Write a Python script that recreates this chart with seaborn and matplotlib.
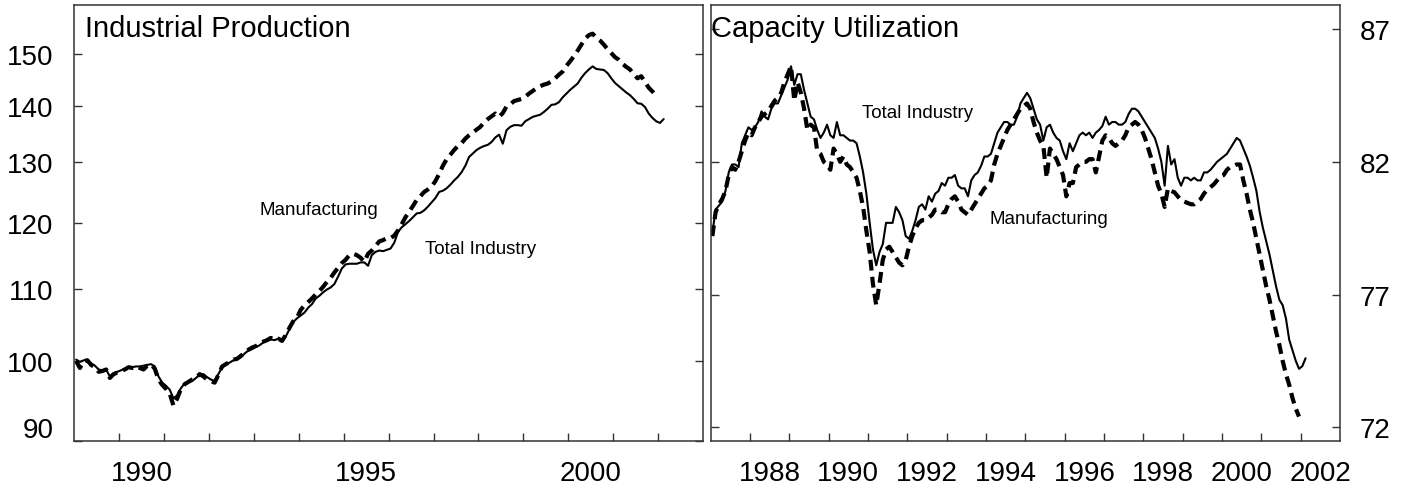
"""
Industrial Production / Capacity Utilization, two-panel monthly chart.
"""

import matplotlib
matplotlib.use("Agg")
import matplotlib.pyplot as plt
import matplotlib.transforms as mtransforms
import numpy as np
import pandas as pd
import seaborn as sns

# ==========================================
# DATA (monthly)
# ==========================================
IP_START = 1989  # Jan 1989 = 100
ip_total = [
    100.2, 99.9, 100.1, 100.2, 99.7, 99.4, 98.9, 98.8, 98.9, 98.0, 98.4, 98.6,
    98.8, 99.0, 99.1, 99.2, 99.3, 99.3, 99.4, 99.5, 99.6, 99.3, 98.0, 97.2,
    96.8, 96.3, 95.2, 95.6, 96.5, 97.1, 97.3, 97.4, 97.8, 98.2, 98.3, 97.9,
    97.6, 97.4, 98.3, 99.2, 99.6, 99.8, 100.1, 100.3, 100.5, 101.0, 101.4, 101.6,
    101.9, 102.1, 102.5, 102.7, 102.9, 102.8, 103.0, 102.8, 103.3, 104.3, 105.3, 105.8,
    106.2, 106.6, 107.3, 107.8, 108.6, 109.0, 109.5, 109.9, 110.2, 110.7, 111.8, 113.0,
    113.6, 113.7, 113.7, 113.7, 113.9, 113.9, 113.4, 115.0, 115.5, 115.7, 115.6, 115.8,
    116.0, 116.9, 118.6, 119.3, 119.8, 120.3, 120.9, 121.5, 121.6, 122.0, 122.6, 123.3,
    124.0, 125.0, 125.2, 125.6, 126.2, 126.9, 127.5, 128.3, 129.4, 130.9, 131.5, 132.1,
    132.5, 132.8, 133.0, 133.5, 134.3, 134.8, 133.2, 135.6, 136.2, 136.5, 136.5, 136.4,
    137.2, 137.6, 138.0, 138.2, 138.4, 138.9, 139.5, 140.2, 140.3, 140.7, 141.6, 142.3,
    143.0, 143.6, 144.2, 145.3, 146.2, 146.9, 147.5, 147.0, 146.9, 146.8, 146.2, 145.2,
    144.3, 143.7, 143.1, 142.5, 142.0, 141.3, 140.5, 140.4, 139.8, 138.6, 137.8, 137.2,
    136.9, 137.6,
]
ip_manuf = [
    100.0, 99.1, 100.0, 100.1, 99.5, 99.2, 98.6, 98.7, 98.9, 97.8, 98.3, 98.5,
    98.7, 98.9, 99.2, 99.1, 99.3, 99.1, 98.9, 99.4, 99.6, 99.0, 97.6, 96.9,
    96.4, 95.8, 94.3, 95.2, 96.4, 97.0, 97.3, 97.6, 97.8, 98.3, 98.0, 97.6,
    97.4, 97.2, 98.2, 99.3, 99.6, 99.9, 100.2, 100.3, 100.7, 101.1, 101.5, 101.8,
    102.0, 102.3, 102.6, 102.8, 103.1, 102.9, 103.0, 102.7, 103.5, 104.5, 105.4, 105.9,
    107.0, 107.6, 108.1, 108.6, 109.2, 109.7, 110.3, 111.0, 111.6, 112.4, 113.1, 113.8,
    114.3, 115.0, 115.2, 115.0, 114.6, 114.0, 115.2, 115.7, 116.4, 117.1, 117.3, 117.6,
    117.6, 118.0, 118.8, 119.8, 120.9, 121.8, 122.7, 123.7, 124.3, 125.0, 125.4, 125.9,
    126.8, 128.0, 129.4, 130.5, 131.3, 132.1, 132.8, 133.3, 134.1, 134.7, 135.2, 135.7,
    136.2, 137.0, 137.6, 138.1, 138.6, 138.0, 138.7, 139.9, 140.3, 140.9, 141.1, 141.3,
    141.7, 142.3, 142.8, 143.3, 143.7, 144.0, 144.2, 144.6, 145.2, 145.9, 146.5, 147.6,
    148.5, 149.5, 150.6, 151.8, 153.0, 153.7, 154.0, 153.2, 152.6, 151.8, 150.9, 150.1,
    149.3, 148.8, 148.0, 147.4, 146.9, 146.0, 145.2, 145.6, 144.5, 143.4, 142.7, 141.9,
]

CU_START = 1987
cu_total = [
    79.3, 80.2, 80.35, 80.5, 80.9, 81.6, 81.9, 81.9, 81.8, 82.7, 83.0, 83.3,
    83.2, 83.3, 83.5, 83.9, 83.7, 83.6, 84.0, 84.2, 84.2, 84.5, 84.8, 85.1,
    85.6, 84.9, 85.3, 85.3, 84.7, 84.2, 83.7, 83.6, 83.2, 82.9, 83.1, 83.4,
    83.0, 82.9, 83.5, 83.0, 83.0, 82.9, 82.8, 82.8, 82.7, 82.2, 81.6, 80.8,
    79.7, 78.7, 78.1, 78.6, 78.9, 79.7, 79.7, 79.7, 80.3, 80.1, 79.8, 79.2,
    79.1, 79.4, 79.8, 80.3, 80.4, 80.2, 80.7, 80.5, 80.8, 80.9, 81.2, 81.1,
    81.4, 81.4, 81.5, 81.1, 81.0, 81.0, 80.7, 81.3, 81.5, 81.6, 81.85, 82.2,
    82.2, 82.3, 82.7, 83.1, 83.3, 83.5, 83.5, 83.4, 83.4, 83.7, 84.2, 84.4,
    84.6, 84.4, 84.0, 83.6, 83.4, 82.8, 83.3, 83.4, 83.1, 82.9, 82.8, 82.4,
    82.1, 82.7, 82.4, 82.7, 83.0, 83.1, 83.0, 83.1, 82.9, 83.1, 83.2, 83.35,
    83.7, 83.4, 83.5, 83.5, 83.4, 83.4, 83.5, 83.8, 84.0, 84.0, 83.9, 83.7,
    83.5, 83.3, 83.1, 82.9, 82.5, 82.0, 81.1, 82.6, 81.9, 82.1, 81.4, 81.1,
    81.4, 81.4, 81.3, 81.4, 81.3, 81.3, 81.6, 81.6, 81.7, 81.85, 82.0, 82.1,
    82.2, 82.3, 82.5, 82.7, 82.9, 82.8, 82.5, 82.2, 81.85, 81.4, 80.9, 80.1,
    79.5, 79.0, 78.5, 77.9, 77.3, 76.8, 76.6, 76.1, 75.3, 74.9, 74.5, 74.2,
    74.3, 74.6,
]
cu_manuf = [
    79.2, 80.1, 80.4, 80.6, 80.9, 81.5, 81.8, 81.7, 82.0, 82.4, 82.8, 83.1,
    83.0, 83.3, 83.5, 83.7, 83.8, 83.9, 84.1, 84.3, 84.4, 84.6, 85.0, 85.3,
    85.6, 84.3, 85.0, 84.6, 84.0, 83.2, 83.4, 83.3, 82.4, 82.3, 82.0, 81.9,
    81.7, 82.5, 82.3, 82.0, 82.2, 81.9, 81.8, 81.6, 81.4, 80.9, 80.3, 79.4,
    78.6, 77.4, 76.6, 77.4, 78.3, 78.7, 78.8, 78.6, 78.4, 78.2, 78.1, 78.3,
    78.8, 79.2, 79.5, 79.7, 79.8, 79.8, 79.9, 80.0, 80.2, 80.2, 80.1, 80.1,
    80.4, 80.6, 80.7, 80.5, 80.2, 80.1, 80.0, 80.2, 80.4, 80.6, 80.8, 81.0,
    81.1, 81.3, 81.9, 82.3, 82.6, 82.9, 83.2, 83.4, 83.6, 83.8, 84.0, 84.1,
    84.2, 84.0, 83.5, 83.1, 82.8, 82.6, 81.4, 82.5, 82.3, 82.1, 81.8, 81.5,
    80.7, 81.2, 81.2, 81.8, 81.9, 82.0, 82.0, 82.1, 82.1, 81.6, 82.2, 82.8,
    83.0, 82.9, 82.7, 82.6, 82.7, 82.8, 83.0, 83.3, 83.4, 83.5, 83.4, 83.2,
    82.9, 82.5, 82.1, 81.6, 81.1, 80.8, 80.3, 81.0, 80.9, 80.85, 80.7, 80.55,
    80.5, 80.45, 80.4, 80.4, 80.5, 80.6, 80.8, 80.95, 81.05, 81.15, 81.3, 81.45,
    81.5, 81.7, 81.8, 81.85, 81.9, 81.9, 81.3, 80.8, 80.2, 79.7, 79.1, 78.5,
    77.9, 77.3, 76.8, 76.2, 75.6, 75.1, 74.5, 74.0, 73.6, 73.1, 72.7, 72.4,
]

ip_yticks = [90, 100, 110, 120, 130, 140, 150]
ip_year_labels = [1990, 1995, 2000]
cu_yticks = [72, 77, 82, 87]
cu_year_labels = [1988, 1990, 1992, 1994, 1996, 1998, 2000, 2002]


def monthly_frame(start, values):
    """Place each monthly value at mid-month on a decimal-year axis."""
    n = len(values)
    return pd.DataFrame({"t": start + (np.arange(n) + 0.5) / 12.0, "v": values})


def main():
    sns.set_style("white")
    plt.rcParams["font.family"] = ["Liberation Sans", "DejaVu Sans"]
    plt.rcParams["text.color"] = "black"
    plt.rcParams["xtick.color"] = "black"
    plt.rcParams["ytick.color"] = "black"

    W, H = 1405, 489
    fig = plt.figure(figsize=(W / 100, H / 100), dpi=100)

    top, bottom = 5.7, 442.0
    ax1 = fig.add_axes([74.3 / W, 1 - bottom / H, (703.0 - 74.3) / W, (bottom - top) / H])
    ax2 = fig.add_axes([710.7 / W, 1 - bottom / H, (1340.0 - 710.7) / W, (bottom - top) / H])

    solid_kw = dict(color="black", linewidth=1.5)
    dash_kw = dict(color="black", linewidth=3.0, linestyle=(0, (2.6, 1.5)))

    # ---------- left: Industrial Production ----------
    sns.lineplot(data=monthly_frame(IP_START, ip_manuf), x="t", y="v", ax=ax1, **dash_kw)
    sns.lineplot(data=monthly_frame(IP_START, ip_total), x="t", y="v", ax=ax1, **solid_kw)

    ax1.set_yscale("log")
    ax1.set_xlim(1989, 2003)
    ax1.set_ylim(90, 160)
    ax1.yaxis.set_minor_locator(matplotlib.ticker.NullLocator())
    ax1.set_yticks(ip_yticks, labels=[str(v) for v in ip_yticks])
    ax1.set_xticks(np.arange(1990, 2003), labels=[])
    ax1.set_xticks([y + 0.5 for y in ip_year_labels],
                   labels=[str(y) for y in ip_year_labels], minor=True)

    ax1.text(0.017, 0.979, "Industrial Production", transform=ax1.transAxes,
             ha="left", va="top", fontsize=21, color="black")
    ax1.text(1993.13, 121.4, "Manufacturing", ha="left", va="baseline",
             fontsize=13.5, color="black")
    ax1.text(1996.81, 115.3, "Total Industry", ha="left", va="baseline",
             fontsize=13.5, color="black")

    # ---------- right: Capacity Utilization ----------
    sns.lineplot(data=monthly_frame(CU_START, cu_manuf), x="t", y="v", ax=ax2, **dash_kw)
    sns.lineplot(data=monthly_frame(CU_START, cu_total), x="t", y="v", ax=ax2, **solid_kw)

    ax2.set_xlim(1987, 2003)
    ax2.set_ylim(71.48, 87.92)
    ax2.set_yticks(cu_yticks, labels=[str(v) for v in cu_yticks])
    ax2.set_xticks(np.arange(1988, 2003), labels=[])
    ax2.set_xticks([y + 0.5 for y in cu_year_labels],
                   labels=[str(y) for y in cu_year_labels], minor=True)

    ax2.text(0.0, 0.979, "Capacity Utilization", transform=ax2.transAxes,
             ha="left", va="top", fontsize=21, color="black")
    ax2.text(1990.85, 83.67, "Total Industry", ha="left", va="baseline",
             fontsize=13.5, color="black")
    ax2.text(1994.10, 79.69, "Manufacturing", ha="left", va="baseline",
             fontsize=13.5, color="black")

    # ---------- shared formatting ----------
    for ax in (ax1, ax2):
        ax.set_xlabel("")
        ax.set_ylabel("")
        for side in ("top", "bottom", "left", "right"):
            ax.spines[side].set_visible(True)
            ax.spines[side].set_color("#333333")
            ax.spines[side].set_linewidth(1.1)
        ax.tick_params(axis="x", which="major", direction="in", length=6, width=1,
                       color="#333333", bottom=True, top=False)
        ax.tick_params(axis="x", which="minor", length=0, pad=14, labelsize=20,
                       labelcolor="black")
        ax.tick_params(axis="y", which="major", direction="in", length=6, width=1,
                       color="#333333", left=True, right=True, labelsize=20,
                       labelcolor="black")

    ax1.tick_params(axis="y", labelleft=True, labelright=False, pad=15)
    ax2.tick_params(axis="y", labelleft=False, labelright=True, pad=14)

    # lift the bottom "90" label off the corner
    lab90 = ax1.yaxis.get_major_ticks()[0].label1
    lab90.set_transform(lab90.get_transform()
                        + mtransforms.ScaledTranslation(0, 10 / 72, fig.dpi_scale_trans))

    fig.savefig("out.png", dpi=100)
    plt.close(fig)


if __name__ == "__main__":
    main()
